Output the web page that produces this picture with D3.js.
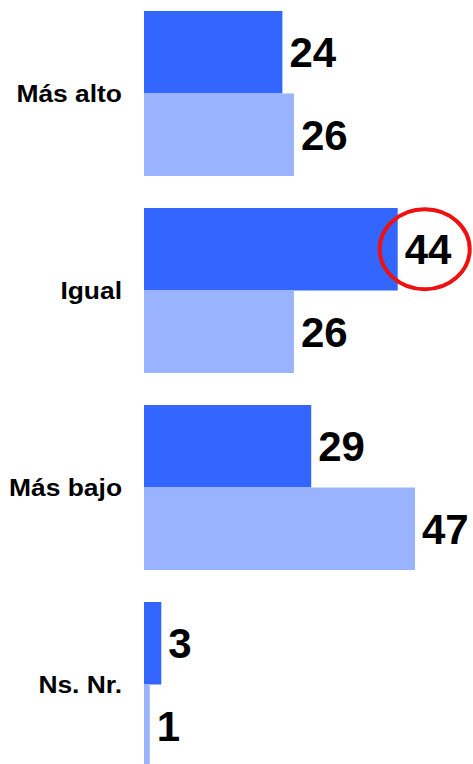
<!DOCTYPE html>
<html lang="es">
<head>
  <meta charset="UTF-8" />
  <script src="https://d3js.org/d3.v7.min.js"></script>
  <title>Comparación</title>
  <style>
    body { margin: 0; background: #fff; }
    text { font-family: "Liberation Sans", Arial, sans-serif; font-weight: bold; }
  </style>
</head>
<body>
<script>
var categories = ["Más alto", "Igual", "Más bajo", "Ns. Nr."];
var series = ["a", "b"];
var valuesA = [24, 44, 29, 3];
var valuesB = [26, 26, 47, 1];
var colors = ["#3366FF", "#99B3FF"];
var highlight = {cat: "Igual", serie: "a"};

var width = 473, height = 764;

var svg = d3.select("body").append("svg").attr("width", width).attr("height", height);

var y = d3.scaleBand().domain(categories).range([11, 767]).paddingInner(32 / 197).paddingOuter(0);
var ys = d3.scaleBand().domain(series).range([0, y.bandwidth()]);
var x = d3.scaleLinear().domain([0, 47]).range([144, 415]);
var color = d3.scaleOrdinal().domain(series).range(colors);

var rows = [];
categories.forEach(function(c, i) {
  rows.push({cat: c, serie: "a", v: valuesA[i]});
  rows.push({cat: c, serie: "b", v: valuesB[i]});
});

svg.selectAll("rect.bar").data(rows).enter().append("rect")
  .attr("class", "bar")
  .attr("x", x(0))
  .attr("y", function(d) { return y(d.cat) + ys(d.serie); })
  .attr("width", function(d) { return x(d.v) - x(0); })
  .attr("height", ys.bandwidth())
  .attr("fill", function(d) { return color(d.serie); });

svg.selectAll("text.val").data(rows).enter().append("text")
  .attr("class", "val")
  .attr("x", function(d) { return x(d.v) + 7; })
  .attr("y", function(d) { return y(d.cat) + ys(d.serie) + ys.bandwidth() / 2; })
  .attr("dy", "0.36em")
  .attr("font-size", 42)
  .attr("fill", "#000")
  .text(function(d) { return d.v; });

// category labels, a bit wide like the original
svg.selectAll("text.cat").data(categories).enter().append("text")
  .attr("class", "cat")
  .attr("transform", function(d) { return "translate(122," + (y(d) + y.bandwidth() / 2) + ") scale(1.1,1)"; })
  .attr("dy", "0.36em")
  .attr("text-anchor", "end")
  .attr("font-size", 24)
  .attr("fill", "#000")
  .text(function(d) { return d; });

// red ring round the highlighted value
var h = rows.filter(function(d) { return d.cat === highlight.cat && d.serie === highlight.serie; })[0];
svg.append("ellipse")
  .attr("cx", x(h.v) + 27)
  .attr("cy", y(h.cat) + ys(h.serie) + ys.bandwidth() / 2)
  .attr("rx", 45)
  .attr("ry", 40)
  .attr("fill", "none")
  .attr("stroke", "#EE1111")
  .attr("stroke-width", 4);
</script>
</body>
</html>
